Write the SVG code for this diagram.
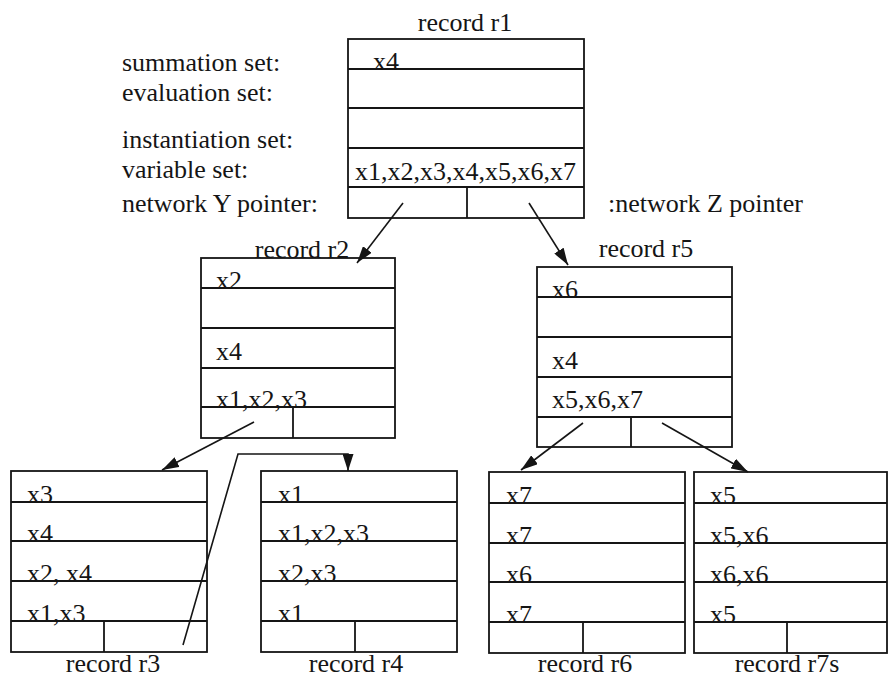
<svg xmlns="http://www.w3.org/2000/svg" width="889" height="679" viewBox="0 0 889 679">
  <style>
    .rec rect, .rec line { stroke: #151515; stroke-width: 1.8; fill: none; }
    .conn path { stroke: #151515; stroke-width: 1.6; fill: none; }
    text { font-family: "Liberation Serif", "Times New Roman", serif; font-size: 26px; fill: #151515; }
    .c { text-anchor: middle; }
  </style>
  <defs>
    <marker id="arrow" markerUnits="userSpaceOnUse" markerWidth="17" markerHeight="11" refX="17" refY="5.5" orient="auto">
      <path d="M0,0 L17,5.5 L0,11 z" fill="#151515"/>
    </marker>
  </defs>
  <rect width="889" height="679" fill="#ffffff"/>

  <!-- field labels -->
  <g id="labels">
    <text x="122" y="71">summation set:</text>
    <text x="122" y="101">evaluation set:</text>
    <text x="122" y="148">instantiation set:</text>
    <text x="122" y="178">variable set:</text>
    <text x="122" y="212">network Y pointer:</text>
    <text x="608" y="212">:network Z pointer</text>
  </g>

  <!-- record r1 -->
  <g id="r1" class="rec">
    <text class="c" x="465" y="31">record r1</text>
    <rect x="348" y="39" width="236" height="179"/>
    <line x1="348" y1="69" x2="584" y2="69"/>
    <line x1="348" y1="108" x2="584" y2="108"/>
    <line x1="348" y1="148" x2="584" y2="148"/>
    <line x1="348" y1="187" x2="584" y2="187"/>
    <line x1="467" y1="187" x2="467" y2="218"/>
    <text x="373" y="70">x4</text>
    <text x="355" y="180">x1,x2,x3,x4,x5,x6,x7</text>
  </g>

  <!-- record r2 -->
  <g id="r2" class="rec">
    <text class="c" x="302" y="258">record r2</text>
    <rect x="201" y="258" width="194" height="180"/>
    <line x1="201" y1="288" x2="395" y2="288"/>
    <line x1="201" y1="328" x2="395" y2="328"/>
    <line x1="201" y1="368" x2="395" y2="368"/>
    <line x1="201" y1="407" x2="395" y2="407"/>
    <line x1="293" y1="407" x2="293" y2="438"/>
    <text x="216" y="289">x2</text>
    <text x="216" y="360">x4</text>
    <text x="216" y="408">x1,x2,x3</text>
  </g>

  <!-- record r5 -->
  <g id="r5" class="rec">
    <text class="c" x="646" y="257">record r5</text>
    <rect x="537" y="267" width="195" height="180"/>
    <line x1="537" y1="297" x2="732" y2="297"/>
    <line x1="537" y1="337" x2="732" y2="337"/>
    <line x1="537" y1="377" x2="732" y2="377"/>
    <line x1="537" y1="417" x2="732" y2="417"/>
    <line x1="631" y1="417" x2="631" y2="447"/>
    <text x="552" y="298">x6</text>
    <text x="552" y="369">x4</text>
    <text x="552" y="408">x5,x6,x7</text>
  </g>

  <!-- record r3 -->
  <g id="r3" class="rec">
    <rect x="11" y="471" width="196" height="181"/>
    <line x1="11" y1="502" x2="207" y2="502"/>
    <line x1="11" y1="541" x2="207" y2="541"/>
    <line x1="11" y1="581" x2="207" y2="581"/>
    <line x1="11" y1="621" x2="207" y2="621"/>
    <line x1="104" y1="621" x2="104" y2="652"/>
    <text x="27" y="503">x3</text>
    <text x="27" y="542">x4</text>
    <text x="27" y="582">x2, x4</text>
    <text x="27" y="622">x1,x3</text>
    <text class="c" x="113" y="672">record r3</text>
  </g>

  <!-- record r4 -->
  <g id="r4" class="rec">
    <rect x="261" y="471" width="196" height="181"/>
    <line x1="261" y1="502" x2="457" y2="502"/>
    <line x1="261" y1="541" x2="457" y2="541"/>
    <line x1="261" y1="581" x2="457" y2="581"/>
    <line x1="261" y1="621" x2="457" y2="621"/>
    <line x1="355" y1="621" x2="355" y2="652"/>
    <text x="278" y="503">x1</text>
    <text x="278" y="542">x1,x2,x3</text>
    <text x="278" y="582">x2,x3</text>
    <text x="278" y="622">x1</text>
    <text class="c" x="356" y="672">record r4</text>
  </g>

  <!-- record r6 -->
  <g id="r6" class="rec">
    <rect x="489" y="472" width="196" height="181"/>
    <line x1="489" y1="503" x2="685" y2="503"/>
    <line x1="489" y1="543" x2="685" y2="543"/>
    <line x1="489" y1="582" x2="685" y2="582"/>
    <line x1="489" y1="622" x2="685" y2="622"/>
    <line x1="583" y1="622" x2="583" y2="653"/>
    <text x="506" y="504">x7</text>
    <text x="506" y="544">x7</text>
    <text x="506" y="583">x6</text>
    <text x="506" y="623">x7</text>
    <text class="c" x="585" y="672">record r6</text>
  </g>

  <!-- record r7s -->
  <g id="r7s" class="rec">
    <rect x="694" y="472" width="193" height="181"/>
    <line x1="694" y1="503" x2="887" y2="503"/>
    <line x1="694" y1="543" x2="887" y2="543"/>
    <line x1="694" y1="582" x2="887" y2="582"/>
    <line x1="694" y1="622" x2="887" y2="622"/>
    <line x1="787" y1="622" x2="787" y2="653"/>
    <text x="710" y="504">x5</text>
    <text x="710" y="544">x5,x6</text>
    <text x="710" y="583">x6,x6</text>
    <text x="710" y="623">x5</text>
    <text class="c" x="787" y="672">record r7s</text>
  </g>

  <!-- pointer connectors -->
  <g id="connectors" class="conn">
    <path d="M403,203 L357,263" marker-end="url(#arrow)"/>
    <path d="M529,203 L568,265" marker-end="url(#arrow)"/>
    <path d="M254,422 L162,470" marker-end="url(#arrow)"/>
    <path d="M183,645 L238,454 L348,454 L348,471" marker-end="url(#arrow)"/>
    <path d="M583,423 L521,470" marker-end="url(#arrow)"/>
    <path d="M662,423 L748,472" marker-end="url(#arrow)"/>
  </g>
</svg>
